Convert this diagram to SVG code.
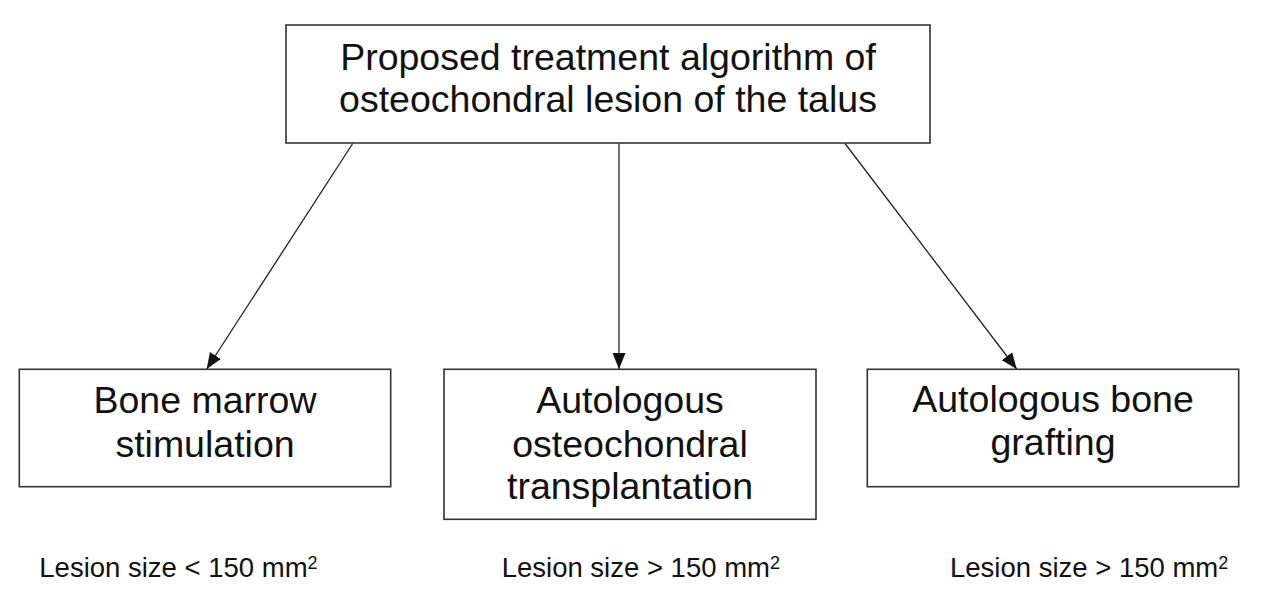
<svg xmlns="http://www.w3.org/2000/svg" width="1262" height="605" viewBox="0 0 1262 605">
  <style>
    .box { fill: #ffffff; stroke: #333333; stroke-width: 1.6; }
    .lbl { font-family: "Liberation Sans", Arial, sans-serif; font-size: 37.5px; fill: #111111; text-anchor: middle; }
    .note { font-family: "Liberation Sans", Arial, sans-serif; font-size: 27.5px; fill: #111111; }
    .sup { font-size: 18px; }
    .edge { stroke: #222222; stroke-width: 1.3; fill: none; marker-end: url(#arrow); }
  </style>
  <defs>
    <marker id="arrow" markerUnits="userSpaceOnUse" markerWidth="16" markerHeight="14" viewBox="0 0 16 13" refX="16" refY="6.5" orient="auto">
      <path d="M0,0 L16,6.5 L0,13 Z" fill="#111111"/>
    </marker>
  </defs>
  <rect width="1262" height="605" fill="#ffffff"/>

  <g id="connectors">
    <line class="edge" x1="352.7" y1="143.5" x2="206.7" y2="369"/>
    <line class="edge" x1="619" y1="143.5" x2="619" y2="369"/>
    <line class="edge" x1="845" y1="143.5" x2="1016.7" y2="369"/>
  </g>

  <g id="root">
    <rect class="box" x="286" y="25" width="644" height="118"/>
    <text class="lbl" x="608" y="70">Proposed treatment algorithm of</text>
    <text class="lbl" x="608" y="111.7">osteochondral lesion of the talus</text>
  </g>

  <g id="bone-marrow">
    <rect class="box" x="19.3" y="369.3" width="371.4" height="117.4"/>
    <text class="lbl" x="205" y="413">Bone marrow</text>
    <text class="lbl" x="205" y="456.5">stimulation</text>
  </g>

  <g id="osteochondral-transplant">
    <rect class="box" x="444" y="369.3" width="372" height="150"/>
    <text class="lbl" x="630" y="412.7">Autologous</text>
    <text class="lbl" x="630" y="456.5">osteochondral</text>
    <text class="lbl" x="630" y="499.3">transplantation</text>
  </g>

  <g id="bone-grafting">
    <rect class="box" x="867.3" y="369.3" width="371.4" height="117.4"/>
    <text class="lbl" x="1053" y="411.7">Autologous bone</text>
    <text class="lbl" x="1053" y="455">grafting</text>
  </g>

  <g id="notes">
    <text class="note" x="39.3" y="577">Lesion size &lt; 150 mm<tspan class="sup" dy="-8">2</tspan></text>
    <text class="note" x="501.7" y="577">Lesion size &gt; 150 mm<tspan class="sup" dy="-8">2</tspan></text>
    <text class="note" x="950" y="577">Lesion size &gt; 150 mm<tspan class="sup" dy="-8">2</tspan></text>
  </g>
</svg>
